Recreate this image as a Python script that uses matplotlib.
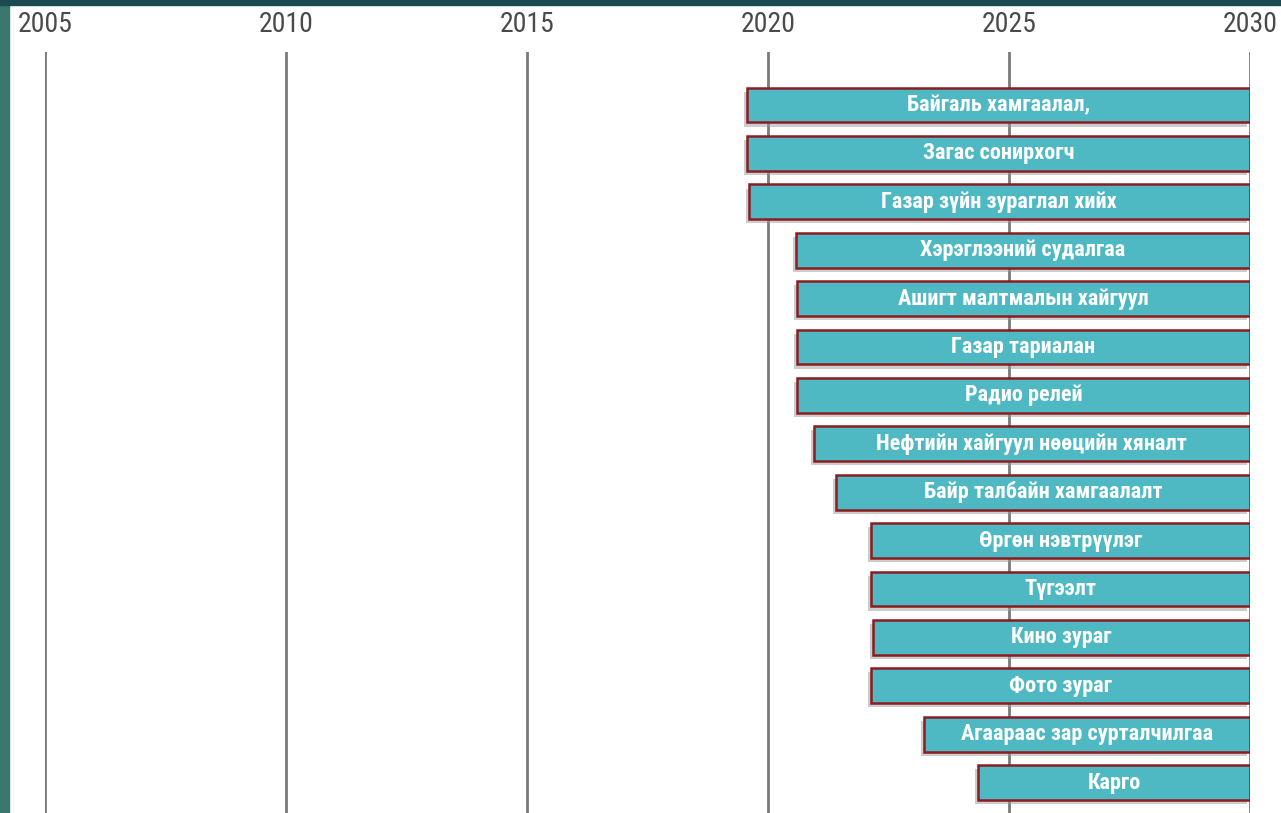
import matplotlib.pyplot as plt
import matplotlib.patheffects as pe
from matplotlib.patches import Rectangle
from matplotlib import font_manager as fm

labels = [
    "Байгаль хамгаалал,",
    "Загас сонирхогч",
    "Газар зүйн зураглал хийх",
    "Хэрэглээний судалгаа",
    "Ашигт малтмалын хайгуул",
    "Газар тариалан",
    "Радио релей",
    "Нефтийн хайгуул нөөцийн хяналт",
    "Байр талбайн хамгаалалт",
    "Өргөн нэвтрүүлэг",
    "Түгээлт",
    "Кино зураг",
    "Фото зураг",
    "Агаараас зар сурталчилгаа",
    "Карго",
]
starts = [2019.56, 2019.56, 2019.6, 2020.58, 2020.6, 2020.6, 2020.6,
          2020.95, 2021.41, 2022.14, 2022.14, 2022.18, 2022.14, 2023.24, 2024.36]
ends = [2030] * len(labels)
years = [2005, 2010, 2015, 2020, 2025, 2030]


def narrow_font(bold):
    # look for an installed narrow / condensed face
    want = "bold" if bold else "normal"
    best = None
    for f in fm.fontManager.ttflist:
        name = f.name.lower()
        narrow = ("narrow" in name or "condensed" in name
                  or f.stretch in ("condensed", "semi-condensed", "extra-condensed"))
        if not narrow or "mono" in name or "serif" in name and "sans" not in name:
            continue
        w = f.weight if isinstance(f.weight, int) else (700 if f.weight == "bold" else 400)
        if (w >= 600) != bold or f.style != "normal":
            continue
        rank = 0 if "liberation" in name else 1 if "roboto" in name else 2 if "dejavu" in name else 3
        if best is None or rank < best[0]:
            best = (rank, f.fname)
    if best:
        return fm.FontProperties(fname=best[1])
    return fm.FontProperties(family="DejaVu Sans", weight=want, stretch="condensed")


year_font = narrow_font(False)
bar_font = narrow_font(True)

W, H = 1281, 813
fig = plt.figure(figsize=(W / 100, H / 100), dpi=100)

# slide frame
fig.patches.append(Rectangle((0, 0), 9 / W, 1, transform=fig.transFigure,
                             color="#3b776e", zorder=0))
fig.patches.append(Rectangle((0, 1 - 5 / H), 1, 5 / H, transform=fig.transFigure,
                             color="#1c4a52", zorder=0))

ax = fig.add_axes([45 / W, 0, 1205 / W, (H - 52) / H])
ax.set_xlim(2005, 2030)
ax.set_ylim(14.63, -1.095)

for s in ax.spines.values():
    s.set_visible(False)

ax.xaxis.tick_top()
ax.set_xticks(years)
ax.set_xticklabels([str(y) for y in years], color="#4a4a4a")
for t in ax.get_xticklabels():
    t.set_fontproperties(year_font)
    t.set_fontsize(20)
ax.tick_params(axis="x", length=0, pad=10)
ax.set_yticks([])
ax.grid(axis="x", color="#7a7a7a", linewidth=2)
ax.set_axisbelow(True)

bars = ax.barh(range(len(labels)), [e - s for s, e in zip(starts, ends)],
               left=starts, height=0.72, color="#4fb9c3",
               edgecolor="#8a1c22", linewidth=1.8, zorder=3)
for b in bars:
    b.set_path_effects([pe.SimplePatchShadow(offset=(-2, -3), shadow_rgbFace="#9a9a9a", alpha=0.5),
                        pe.Normal()])

for i, (lab, s, e) in enumerate(zip(labels, starts, ends)):
    ax.text((s + e) / 2, i, lab, ha="center", va="center", color="white",
            fontproperties=bar_font, fontsize=16, zorder=4)

fig.savefig("out.png", dpi=100)
